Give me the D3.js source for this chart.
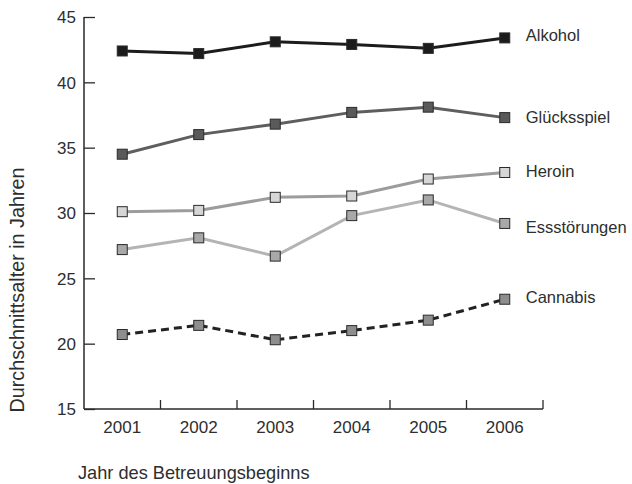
<!DOCTYPE html>
<html>
<head>
<meta charset="utf-8">
<script src="https://cdn.jsdelivr.net/npm/d3@7"></script>
<style>
  html, body { margin: 0; padding: 0; background: #fff; }
  svg { display: block; }
  text { font-family: "Liberation Sans", Arial, sans-serif; fill: #2e2e2e; }
</style>
</head>
<body>
<svg id="chart" width="632" height="484"></svg>
<script>
const years = ["2001", "2002", "2003", "2004", "2005", "2006"];
const yTicks = [15, 20, 25, 30, 35, 40, 45];
const seriesNames = ["Alkohol", "Glücksspiel", "Heroin", "Essstörungen", "Cannabis"];
const alkohol      = [42.4, 42.2, 43.1, 42.9, 42.6, 43.4];
const gluecksspiel = [34.5, 36.0, 36.8, 37.7, 38.1, 37.3];
const heroin       = [30.1, 30.2, 31.2, 31.3, 32.6, 33.1];
const essstoerungen= [27.2, 28.1, 26.7, 29.8, 31.0, 29.2];
const cannabis     = [20.7, 21.4, 20.3, 21.0, 21.8, 23.4];
const yLabel = "Durchschnittsalter in Jahren";
const xLabel = "Jahr des Betreuungsbeginns";

const seriesValues = [alkohol, gluecksspiel, heroin, essstoerungen, cannabis];
const styles = [
  { line: "#1c1c1c", fill: "#1c1c1c", dash: null, dy: -3 },
  { line: "#5e5e5e", fill: "#5a5a5a", dash: null, dy: 0 },
  { line: "#9c9c9c", fill: "#d6d6d6", dash: null, dy: -1 },
  { line: "#b4b4b4", fill: "#a8a8a8", dash: null, dy: 4 },
  { line: "#222222", fill: "#8e8e8e", dash: "8,5", dy: -2 }
];

const svg = d3.select("#chart");
const mLeft = 84, mRight = 543, mTop = 17, mBottom = 409;

const x = d3.scaleBand().domain(years).range([mLeft, mRight]);
const y = d3.scaleLinear().domain([15, 45]).range([mBottom, mTop]);

// Y axis
const yAxis = svg.append("g").attr("transform", `translate(${mLeft},0)`)
  .call(d3.axisRight(y).tickValues(yTicks).tickSize(11).tickFormat(d3.format("d")));
yAxis.select(".domain").remove();
yAxis.selectAll(".tick line").attr("stroke", "#2a2a2a").attr("stroke-width", 1.3);
yAxis.selectAll(".tick text").attr("x", -8).attr("text-anchor", "end")
  .style("font-size", "17px").attr("fill", "#2e2e2e").attr("dy", "0.35em");
svg.append("line").attr("x1", mLeft).attr("x2", mLeft).attr("y1", mTop).attr("y2", mBottom)
  .attr("stroke", "#2a2a2a").attr("stroke-width", 1.5);

// X axis
const xAxis = svg.append("g").attr("transform", `translate(0,${mBottom})`)
  .call(d3.axisBottom(x).tickSize(0).tickPadding(12));
xAxis.select(".domain").remove();
xAxis.selectAll(".tick text").style("font-size", "17px").attr("fill", "#2e2e2e");
svg.append("line").attr("x1", mLeft).attr("x2", mRight).attr("y1", mBottom).attr("y2", mBottom)
  .attr("stroke", "#2a2a2a").attr("stroke-width", 1.5);
const boundaries = years.map(d => x(d)).concat([x(years[years.length - 1]) + x.bandwidth()]);
svg.append("g").selectAll("line").data(boundaries.slice(1)).join("line")
  .attr("x1", d => d).attr("x2", d => d).attr("y1", mBottom).attr("y2", mBottom - 9)
  .attr("stroke", "#2a2a2a").attr("stroke-width", 1.3);

// Axis titles
svg.append("text").attr("transform", `translate(17,290) rotate(-90)`)
  .attr("text-anchor", "middle").attr("dy", "0.35em").style("font-size", "19.8px").text(yLabel);
svg.append("text").attr("x", 78).attr("y", 479).style("font-size", "18.2px").text(xLabel);

const cx = d => x(d) + x.bandwidth() / 2;
const line = d3.line().x((v, i) => cx(years[i])).y(v => y(v));

seriesValues.forEach((vals, si) => {
  const st = styles[si];
  const g = svg.append("g");
  g.append("path").datum(vals).attr("d", line).attr("fill", "none")
    .attr("stroke", st.line).attr("stroke-width", 3)
    .attr("stroke-dasharray", st.dash);
  g.selectAll("rect").data(vals).join("rect")
    .attr("x", (v, i) => cx(years[i]) - 5).attr("y", v => y(v) - 5)
    .attr("width", 10).attr("height", 10)
    .attr("fill", st.fill).attr("stroke", "#2a2a2a").attr("stroke-width", 1);
  const last = vals[vals.length - 1];
  g.append("text").attr("x", cx(years[years.length - 1]) + 21).attr("y", y(last) + st.dy)
    .attr("dy", "0.35em").style("font-size", "16.5px").text(seriesNames[si]);
});
</script>
</body>
</html>
